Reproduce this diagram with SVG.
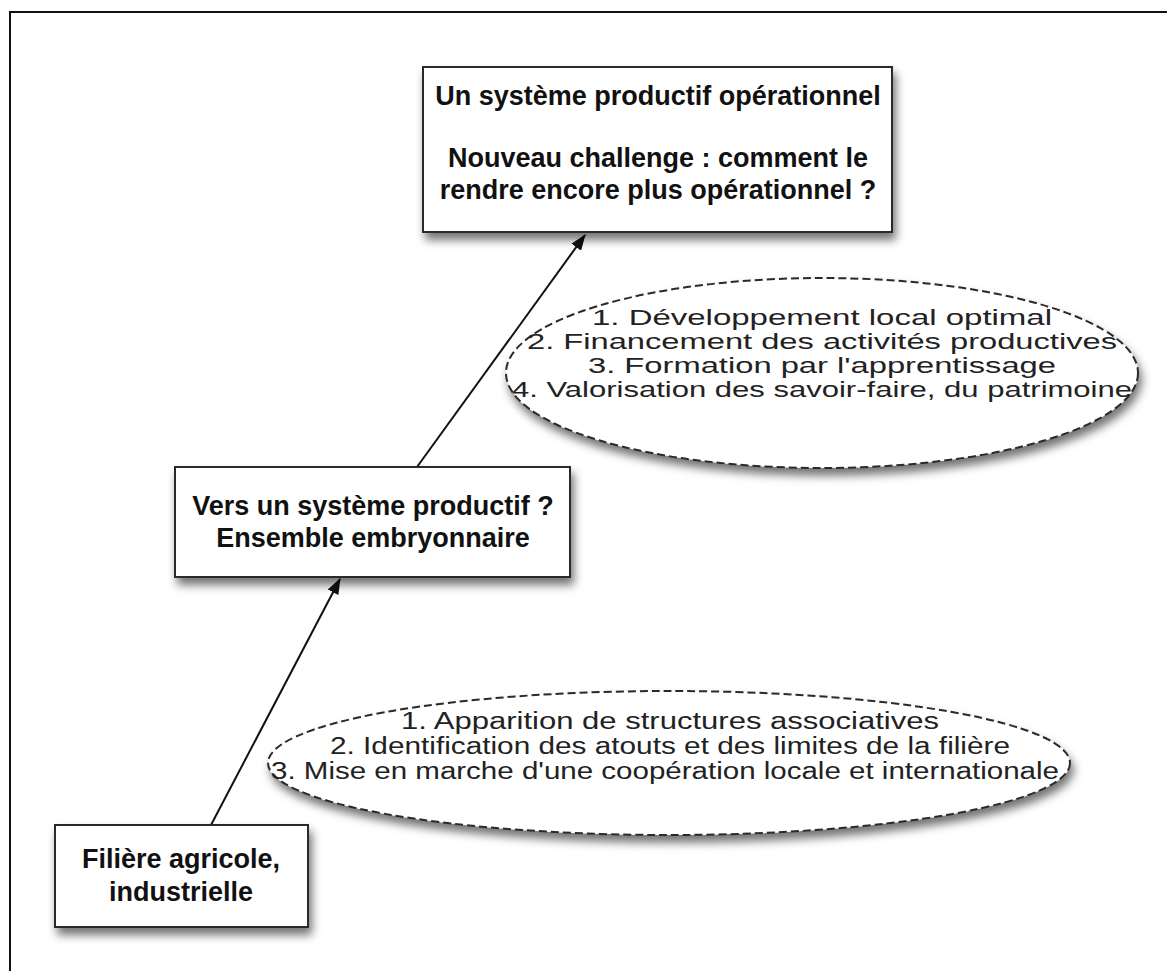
<svg xmlns="http://www.w3.org/2000/svg" width="1167" height="971" viewBox="0 0 1167 971">
<defs>
<style>
.box{fill:#fff;stroke:#2a2a2a;stroke-width:2;filter:url(#sh)}
.ell{fill:#fff;stroke:#2a2a2a;stroke-width:2;stroke-dasharray:8 4;filter:url(#sh)}
.bt{font-family:"Liberation Sans",Arial,sans-serif;font-weight:bold;font-size:27px;fill:#111;text-anchor:middle}
.et{font-family:"Liberation Sans",Arial,sans-serif;font-size:22px;fill:#222;text-anchor:middle}
.et2{font-family:"Liberation Sans",Arial,sans-serif;font-size:23px;fill:#222;text-anchor:middle}
.conn{stroke:#111;stroke-width:2;fill:none;marker-end:url(#ah)}
</style>
<filter id="sh" x="-10%" y="-10%" width="125%" height="140%">
<feDropShadow dx="3" dy="7" stdDeviation="5" flood-color="#000" flood-opacity="0.55"/>
</filter>
<marker id="ah" viewBox="0 0 16 12" refX="15" refY="6" markerWidth="16" markerHeight="12" markerUnits="userSpaceOnUse" orient="auto">
<path d="M0,0 L16,6 L0,12 Z" fill="#111"/>
</marker>
</defs>
<rect x="0" y="0" width="1167" height="971" fill="#fff"/>
<path d="M10,971 V12 H1167" fill="none" stroke="#111" stroke-width="2"/>

<g id="connectors">
<line class="conn" x1="211" y1="825" x2="340" y2="579"/>
<line class="conn" x1="417" y1="467" x2="585" y2="235"/>
</g>

<g id="node-top">
<rect class="box" x="423" y="67" width="469" height="165"/>
<text class="bt" x="658" y="105">Un système productif opérationnel</text>
<text class="bt" x="658" y="167">Nouveau challenge : comment le</text>
<text class="bt" x="658" y="199">rendre encore plus opérationnel ?</text>
</g>

<g id="ellipse-upper">
<ellipse class="ell" cx="822" cy="373" rx="316" ry="95"/>
<text class="et" x="822" y="325" textLength="460" lengthAdjust="spacingAndGlyphs">1. Développement local optimal</text>
<text class="et" x="822" y="349" textLength="590" lengthAdjust="spacingAndGlyphs">2. Financement des activités productives</text>
<text class="et" x="822" y="373" textLength="468" lengthAdjust="spacingAndGlyphs">3. Formation par l'apprentissage</text>
<text class="et" x="822" y="397" textLength="620" lengthAdjust="spacingAndGlyphs">4. Valorisation des savoir-faire, du patrimoine</text>
</g>

<g id="node-middle">
<rect class="box" x="175" y="467" width="395" height="110"/>
<text class="bt" x="373" y="515">Vers un système productif ?</text>
<text class="bt" x="373" y="547">Ensemble embryonnaire</text>
</g>

<g id="ellipse-lower">
<ellipse class="ell" cx="669" cy="763" rx="401" ry="72"/>
<text class="et2" x="670" y="729" textLength="538" lengthAdjust="spacingAndGlyphs">1. Apparition de structures associatives</text>
<text class="et2" x="670" y="754" textLength="680" lengthAdjust="spacingAndGlyphs">2. Identification des atouts et des limites de la filière</text>
<text class="et2" x="665" y="779" textLength="788" lengthAdjust="spacingAndGlyphs">3. Mise en marche d'une coopération locale et internationale</text>
</g>

<g id="node-bottom">
<rect class="box" x="55" y="825" width="253" height="102"/>
<text class="bt" x="181" y="868">Filière agricole,</text>
<text class="bt" x="181" y="901">industrielle</text>
</g>
</svg>
